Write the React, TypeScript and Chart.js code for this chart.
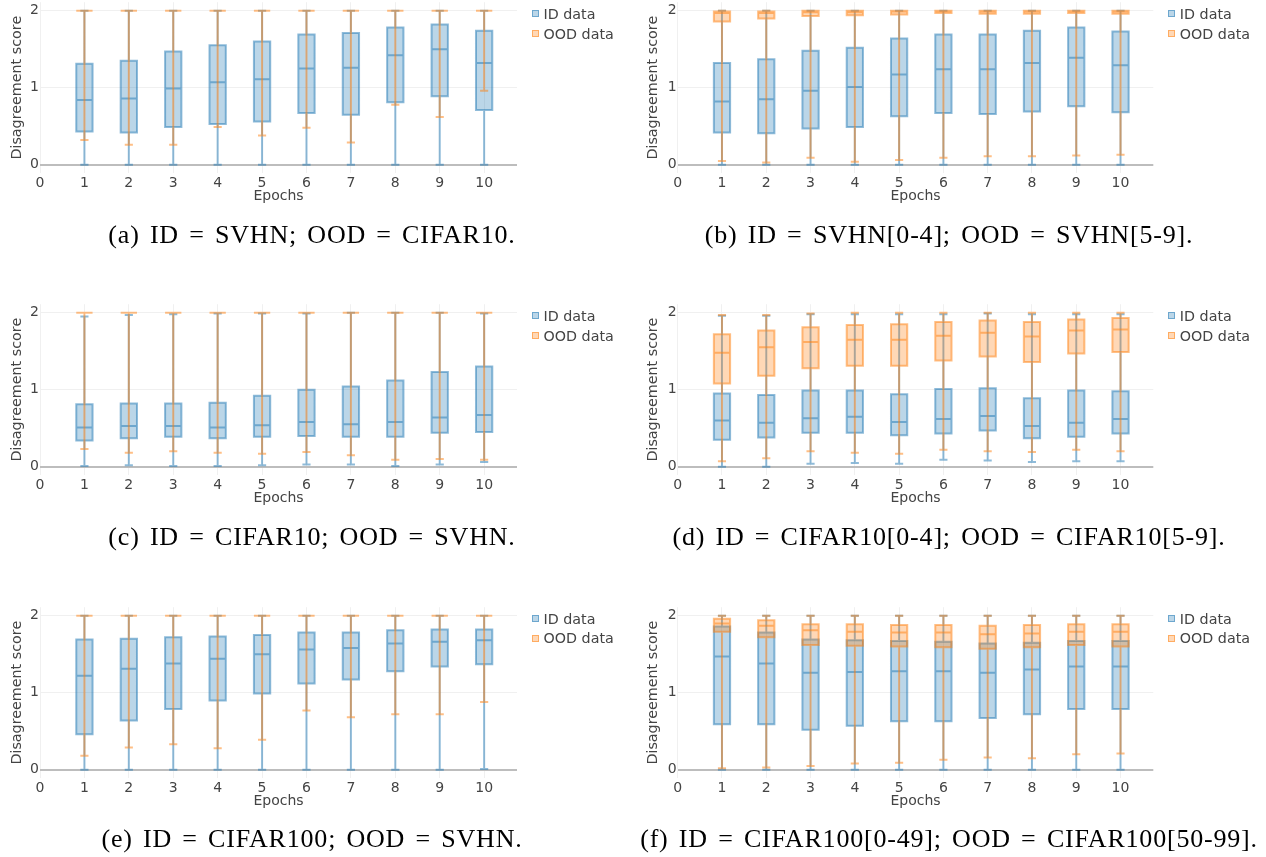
import React, { useEffect, useRef } from 'react';
import { Chart, registerables } from 'chart.js';

Chart.register(...registerables);

// ---------------- data ----------------
const epochs = [1, 2, 3, 4, 5, 6, 7, 8, 9, 10];
const xTickValues = [0, 1, 2, 3, 4, 5, 6, 7, 8, 9, 10];
const yTickValues = [0, 1, 2];
const seriesNames = ['ID data', 'OOD data'];
const xTitle = 'Epochs';
const yTitle = 'Disagreement score';

// each entry: [lower whisker, q1, median, q3, upper whisker]
const idA = [
  [0, 0.43, 0.84, 1.31, 2], [0, 0.42, 0.86, 1.35, 2], [0, 0.49, 0.99, 1.47, 2], [0, 0.53, 1.07, 1.55, 2],
  [0, 0.56, 1.11, 1.6, 2], [0, 0.67, 1.25, 1.69, 2], [0, 0.65, 1.26, 1.71, 2], [0, 0.81, 1.42, 1.78, 2],
  [0, 0.89, 1.5, 1.82, 2], [0, 0.71, 1.32, 1.74, 2],
];
const oodA = [
  [0.32, 2, 2, 2, 2], [0.26, 2, 2, 2, 2], [0.26, 2, 2, 2, 2], [0.49, 2, 2, 2, 2], [0.38, 2, 2, 2, 2],
  [0.48, 2, 2, 2, 2], [0.29, 2, 2, 2, 2], [0.78, 2, 2, 2, 2], [0.62, 2, 2, 2, 2], [0.96, 2, 2, 2, 2],
];
const idB = [
  [0, 0.42, 0.82, 1.32, 2], [0, 0.41, 0.85, 1.37, 2], [0, 0.47, 0.96, 1.48, 2], [0, 0.49, 1.01, 1.52, 2],
  [0, 0.63, 1.17, 1.64, 2], [0, 0.67, 1.24, 1.69, 2], [0, 0.66, 1.24, 1.69, 2], [0, 0.69, 1.32, 1.74, 2],
  [0, 0.76, 1.39, 1.78, 2], [0, 0.68, 1.29, 1.73, 2],
];
const oodB = [
  [0.05, 1.86, 1.97, 1.99, 2], [0.03, 1.9, 1.97, 1.99, 2], [0.09, 1.93, 1.98, 2, 2], [0.04, 1.94, 1.98, 2, 2],
  [0.06, 1.95, 1.99, 2, 2], [0.09, 1.97, 1.99, 2, 2], [0.11, 1.96, 1.99, 2, 2], [0.11, 1.96, 1.99, 2, 2],
  [0.12, 1.97, 1.99, 2, 2], [0.13, 1.96, 1.99, 2, 2],
];
const idC = [
  [0.01, 0.34, 0.51, 0.81, 1.95], [0.02, 0.37, 0.53, 0.82, 1.97], [0.01, 0.39, 0.53, 0.82, 1.98],
  [0.01, 0.37, 0.51, 0.83, 1.99], [0.02, 0.39, 0.54, 0.92, 1.99], [0.03, 0.4, 0.58, 1.0, 1.99],
  [0.03, 0.39, 0.55, 1.04, 2], [0.01, 0.39, 0.58, 1.12, 2], [0.03, 0.44, 0.64, 1.23, 2],
  [0.06, 0.45, 0.67, 1.3, 1.99],
];
const oodC = [
  [0.23, 2, 2, 2, 2], [0.18, 2, 2, 2, 2], [0.2, 2, 2, 2, 2], [0.18, 2, 2, 2, 2], [0.17, 2, 2, 2, 2],
  [0.19, 2, 2, 2, 2], [0.15, 2, 2, 2, 2], [0.09, 2, 2, 2, 2], [0.1, 2, 2, 2, 2], [0.09, 2, 2, 2, 2],
];
const idD = [
  [0.0, 0.35, 0.6, 0.95, 1.96], [0.0, 0.38, 0.57, 0.93, 1.96], [0.04, 0.44, 0.63, 0.99, 1.98],
  [0.05, 0.44, 0.65, 0.99, 1.98], [0.04, 0.41, 0.58, 0.94, 1.98], [0.09, 0.43, 0.62, 1.01, 1.98],
  [0.08, 0.47, 0.66, 1.02, 1.99], [0.06, 0.37, 0.53, 0.89, 1.98], [0.07, 0.39, 0.57, 0.99, 1.98],
  [0.07, 0.43, 0.62, 0.98, 1.98],
];
const oodD = [
  [0.07, 1.08, 1.48, 1.72, 1.97], [0.11, 1.18, 1.55, 1.77, 1.97], [0.2, 1.28, 1.62, 1.81, 1.99],
  [0.18, 1.31, 1.65, 1.84, 2], [0.17, 1.31, 1.65, 1.85, 2], [0.22, 1.38, 1.7, 1.88, 2],
  [0.2, 1.43, 1.74, 1.9, 2], [0.19, 1.36, 1.69, 1.88, 2], [0.22, 1.47, 1.77, 1.91, 2],
  [0.2, 1.49, 1.78, 1.93, 2],
];
const idE = [
  [0, 0.46, 1.22, 1.69, 2], [0, 0.64, 1.31, 1.7, 2], [0, 0.79, 1.38, 1.72, 2], [0, 0.9, 1.44, 1.73, 2],
  [0, 0.99, 1.5, 1.75, 2], [0, 1.12, 1.56, 1.78, 2], [0, 1.17, 1.58, 1.78, 2], [0, 1.28, 1.64, 1.81, 2],
  [0, 1.34, 1.66, 1.82, 2], [0.01, 1.37, 1.68, 1.82, 2],
];
const oodE = [
  [0.18, 2, 2, 2, 2], [0.29, 2, 2, 2, 2], [0.33, 2, 2, 2, 2], [0.28, 2, 2, 2, 2], [0.39, 2, 2, 2, 2],
  [0.77, 2, 2, 2, 2], [0.68, 2, 2, 2, 2], [0.72, 2, 2, 2, 2], [0.72, 2, 2, 2, 2], [0.88, 2, 2, 2, 2],
];
const idF = [
  [0, 0.59, 1.47, 1.86, 2], [0, 0.59, 1.38, 1.78, 2], [0, 0.52, 1.26, 1.69, 2], [0, 0.57, 1.27, 1.68, 2],
  [0, 0.63, 1.28, 1.67, 2], [0, 0.63, 1.28, 1.66, 2], [0, 0.67, 1.26, 1.64, 2], [0, 0.72, 1.3, 1.65, 2],
  [0, 0.79, 1.34, 1.67, 2], [0, 0.79, 1.34, 1.67, 2],
];
const oodF = [
  [0.02, 1.79, 1.9, 1.96, 2], [0.03, 1.72, 1.87, 1.94, 2], [0.05, 1.62, 1.81, 1.89, 2],
  [0.08, 1.61, 1.79, 1.89, 2], [0.09, 1.6, 1.78, 1.88, 2], [0.13, 1.59, 1.78, 1.88, 2],
  [0.16, 1.57, 1.76, 1.87, 2], [0.15, 1.59, 1.77, 1.88, 2], [0.2, 1.62, 1.79, 1.89, 2],
  [0.21, 1.6, 1.79, 1.89, 2],
];

const captions = [
  '(a) ID = SVHN; OOD = CIFAR10.',
  '(b) ID = SVHN[0-4]; OOD = SVHN[5-9].',
  '(c) ID = CIFAR10; OOD = SVHN.',
  '(d) ID = CIFAR10[0-4]; OOD = CIFAR10[5-9].',
  '(e) ID = CIFAR100; OOD = SVHN.',
  '(f) ID = CIFAR100[0-49]; OOD = CIFAR100[50-99].',
];

// ---------------- styling / layout ----------------
const FONT = 'DejaVu Sans';
const TEXT = '#444';
const ID_LINE = 'rgba(31,119,180,0.5)';
const ID_FILL = 'rgba(31,119,180,0.3)';
const OOD_LINE = 'rgba(255,127,14,0.5)';
const OOD_FILL = 'rgba(255,127,14,0.3)';
const GRID = '#f0f0f0';
const ZERO = '#bdbdbd';

const Y_MIN = -0.11;
const Y_MAX = 2.11;
const X_MIN = 0;
const X_MAX = 10.74;

const COL_LEFT = [0, 633];
const COL_W = 633;
const PLOT_LEFT = [40, 677.7];
const PLOT_RIGHT = [517, 1153.3];
const ROW_TOP = [2.2, 304.2, 606.8];
const PLOT_H = 171;
const PAD_TOP = 2.2;
const CANVAS_H = 225;
const Y_TITLE_PAD = [8.7, 11.4];
const CAPTION_CX = [312, 949];
const CAPTION_CY = [234.5, 536.8, 839];

const boxDetails = {
  id: 'boxDetails',
  afterDatasetDraw(chart: any, args: any) {
    const ds: any = chart.data.datasets[args.index];
    const y = chart.scales.y;
    const ctx = chart.ctx;
    ctx.save();
    ctx.beginPath();
    args.meta.data.forEach((bar: any, i: number) => {
      const [lo, q1, med, q3, hi] = ds.stats[i];
      const cx = bar.x;
      const hw = bar.width / 2;
      const cw = hw / 2;
      const pLo = y.getPixelForValue(lo);
      const pQ1 = y.getPixelForValue(q1);
      const pMed = y.getPixelForValue(med);
      const pQ3 = y.getPixelForValue(q3);
      const pHi = y.getPixelForValue(hi);
      ctx.rect(cx - hw, pQ3, 2 * hw, pQ1 - pQ3);
      ctx.moveTo(cx - hw, pMed);
      ctx.lineTo(cx + hw, pMed);
      ctx.moveTo(cx, pQ1);
      ctx.lineTo(cx, pLo);
      ctx.moveTo(cx - cw, pLo);
      ctx.lineTo(cx + cw, pLo);
      ctx.moveTo(cx, pQ3);
      ctx.lineTo(cx, pHi);
      ctx.moveTo(cx - cw, pHi);
      ctx.lineTo(cx + cw, pHi);
    });
    ctx.lineWidth = 2;
    ctx.strokeStyle = ds.lineColor;
    ctx.stroke();
    ctx.restore();
  },
};

function makeDataset(stats: number[][], label: string, fill: string, line: string, order: number) {
  return {
    label,
    order,
    data: epochs.map((e, i) => ({ x: e, y: [stats[i][1], stats[i][3]] })),
    backgroundColor: fill,
    borderWidth: 0,
    grouped: false,
    categoryPercentage: 0.367,
    barPercentage: 1,
    stats,
    lineColor: line,
  };
}

function BoxPanel({ id, ood, col, row }: { id: number[][]; ood: number[][]; col: number; row: number }) {
  const ref = useRef<HTMLCanvasElement>(null);
  useEffect(() => {
    const font = { family: FONT, size: 14 };
    const chart = new Chart(ref.current as HTMLCanvasElement, {
      type: 'bar',
      data: {
        datasets: [
          makeDataset(id, seriesNames[0], ID_FILL, ID_LINE, 1) as any,
          makeDataset(ood, seriesNames[1], OOD_FILL, OOD_LINE, 0) as any,
        ],
      },
      options: {
        animation: false,
        responsive: false,
        maintainAspectRatio: false,
        devicePixelRatio: 1,
        layout: {
          padding: { top: PAD_TOP, left: 0, bottom: 0, right: COL_LEFT[col] + COL_W - PLOT_RIGHT[col] },
        },
        plugins: { legend: { display: false }, tooltip: { enabled: false }, title: { display: false } },
        scales: {
          x: {
            type: 'linear',
            min: X_MIN,
            max: X_MAX,
            offset: false,
            afterBuildTicks: (s: any) => {
              s.ticks = xTickValues.map((v) => ({ value: v }));
            },
            afterFit: (s: any) => {
              s.height = CANVAS_H - PAD_TOP - PLOT_H;
              s.paddingLeft = 0;
              s.paddingRight = 0;
            },
            grid: { color: GRID, lineWidth: 1, drawTicks: false, offset: false },
            border: { display: false },
            ticks: { padding: 2, maxRotation: 0, autoSkip: false, color: TEXT, font },
            title: {
              display: true,
              text: xTitle,
              color: TEXT,
              font: { family: FONT, size: 14 },
              padding: { top: 0, bottom: 20 },
            },
          },
          y: {
            type: 'linear',
            min: Y_MIN,
            max: Y_MAX,
            afterBuildTicks: (s: any) => {
              s.ticks = yTickValues.map((v) => ({ value: v }));
            },
            afterFit: (s: any) => {
              s.width = PLOT_LEFT[col] - COL_LEFT[col];
              s.paddingTop = 0;
              s.paddingBottom = 0;
            },
            grid: {
              color: (c: any) => (c.tick && c.tick.value === 0 ? ZERO : GRID),
              lineWidth: (c: any) => (c.tick && c.tick.value === 0 ? 2 : 1),
              drawTicks: false,
            },
            border: { display: false },
            ticks: { padding: 1, color: TEXT, font },
            title: {
              display: true,
              text: yTitle,
              color: TEXT,
              font: { family: FONT, size: 14.3 },
              padding: { top: Y_TITLE_PAD[col], bottom: 0 },
            },
          },
        },
      } as any,
      plugins: [boxDetails],
    });
    return () => chart.destroy();
  }, [id, ood, col, row]);

  const y2 = ROW_TOP[row] + ((Y_MAX - 2) / (Y_MAX - Y_MIN)) * PLOT_H;
  const legendItems = [
    { name: seriesNames[0], fill: ID_FILL, line: ID_LINE, dy: 3.3 },
    { name: seriesNames[1], fill: OOD_FILL, line: OOD_LINE, dy: 23 },
  ];
  return (
    <>
      <canvas
        ref={ref}
        width={COL_W}
        height={CANVAS_H}
        style={{ position: 'absolute', left: COL_LEFT[col], top: ROW_TOP[row] - PAD_TOP, width: COL_W, height: CANVAS_H }}
      />
      {legendItems.map((it) => (
        <div
          key={it.name}
          style={{
            position: 'absolute',
            left: PLOT_RIGHT[col] + 14.5,
            top: y2 + it.dy - 10,
            height: 20,
            display: 'flex',
            alignItems: 'center',
            fontFamily: FONT,
            fontSize: 14.3,
            color: TEXT,
            whiteSpace: 'nowrap',
          }}
        >
          <span
            style={{
              display: 'inline-block',
              width: 7,
              height: 7,
              boxSizing: 'border-box',
              background: it.fill,
              border: `1px solid ${it.line}`,
              marginRight: 5,
            }}
          />
          <span>{it.name}</span>
        </div>
      ))}
      <div
        style={{
          position: 'absolute',
          left: CAPTION_CX[col] - 320,
          width: 640,
          top: CAPTION_CY[row] - 15,
          height: 30,
          lineHeight: '30px',
          textAlign: 'center',
          fontFamily: 'Liberation Serif',
          fontSize: 26,
          letterSpacing: 0.8,
          wordSpacing: 3,
          color: '#000',
          whiteSpace: 'nowrap',
        }}
      >
        {captions[row * 2 + col]}
      </div>
    </>
  );
}

export default function App() {
  const panels = [
    { id: idA, ood: oodA, col: 0, row: 0 },
    { id: idB, ood: oodB, col: 1, row: 0 },
    { id: idC, ood: oodC, col: 0, row: 1 },
    { id: idD, ood: oodD, col: 1, row: 1 },
    { id: idE, ood: oodE, col: 0, row: 2 },
    { id: idF, ood: oodF, col: 1, row: 2 },
  ];
  return (
    <div style={{ position: 'absolute', left: 0, top: 0, width: 1266, height: 857, overflow: 'hidden', background: '#fff' }}>
      {panels.map((p) => (
        <BoxPanel key={`${p.col}-${p.row}`} id={p.id} ood={p.ood} col={p.col} row={p.row} />
      ))}
    </div>
  );
}
